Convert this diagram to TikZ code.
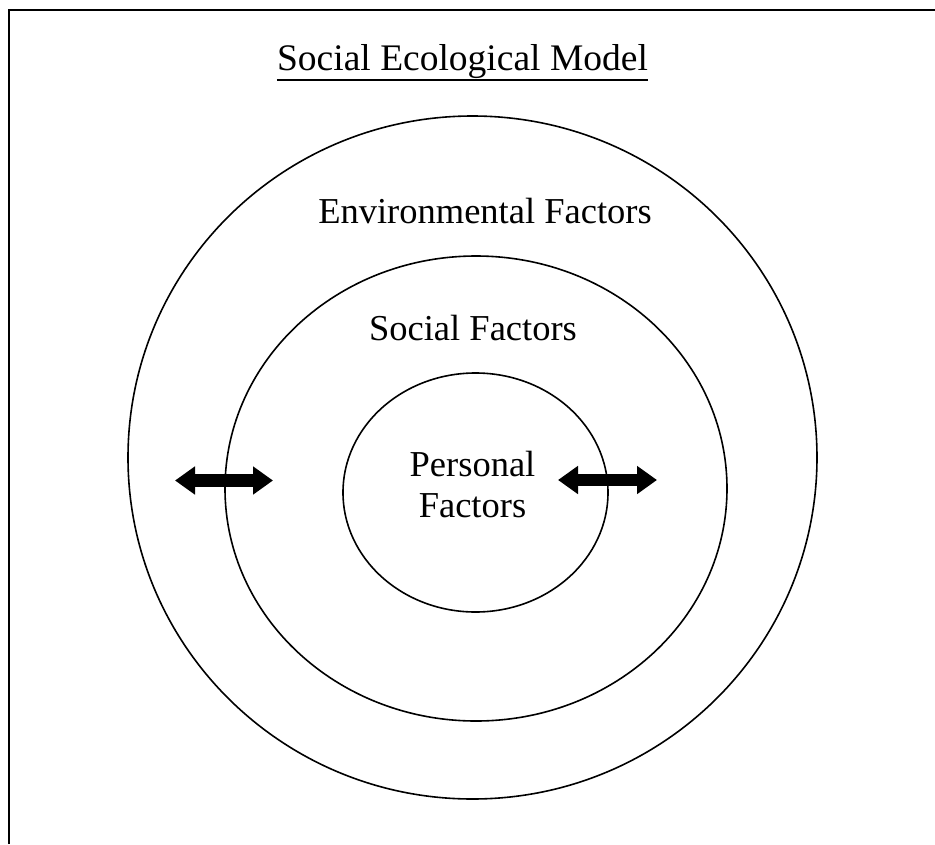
\documentclass[tikz,border=0pt]{standalone}
\usepackage{fontspec}
\setmainfont{Liberation Serif}
\usetikzlibrary{arrows.meta,shapes.geometric}
\begin{document}
\begin{tikzpicture}[x=1pt,y=-1pt,
  label text/.style={inner sep=0pt,anchor=base,font=\fontsize{36.5}{41}\selectfont},
  ring/.style={draw=black,line width=1.6pt,ellipse,inner sep=0pt},
  frame line/.style={draw=black,line width=2pt},
  blockarrow/.style={draw=black,line width=12.5pt,line cap=butt,
    {Triangle[length=20pt,width=27pt]}-{Triangle[length=20pt,width=27pt]}}]
  \useasboundingbox (0,0) rectangle (935,844);
  % open frame: left and top edges
  \coordinate (fb) at (9.3,844);
  \coordinate (fc) at (9.3,10);
  \coordinate (fr) at (935,10);
  \draw[frame line] (fb) -- (fc) -- (fr);
  % title with underline
  \node[label text,font=\fontsize{37.5}{42}\selectfont] (title) at (462.5,70.7) {Social Ecological Model};
  \draw[line width=1.8pt] ([yshift=-9.5pt]title.base west) -- ([yshift=-9.5pt]title.base east);
  % nested rings
  \node[ring,minimum width=689pt,minimum height=683pt] (env) at (472.5,457.5) {};
  \node[ring,minimum width=502pt,minimum height=465pt] (soc) at (476,488.5) {};
  \node[ring,minimum width=265pt,minimum height=239pt] (per) at (475.5,492.5) {};
  % ring labels
  \node[label text] (envlab) at (485,223) {Environmental Factors};
  \node[label text] (soclab) at (473,340) {Social Factors};
  \node[label text,align=center] (perlab) at (472.5,517) {Personal\\Factors};
  % two-way arrows across the ring boundaries
  \coordinate (la) at (175,480.5);
  \coordinate (lb) at (273,480.5);
  \coordinate (ra) at (558,480);
  \coordinate (rb) at (657,480);
  \draw[blockarrow] (la) -- (lb);
  \draw[blockarrow] (ra) -- (rb);
\end{tikzpicture}
\end{document}
